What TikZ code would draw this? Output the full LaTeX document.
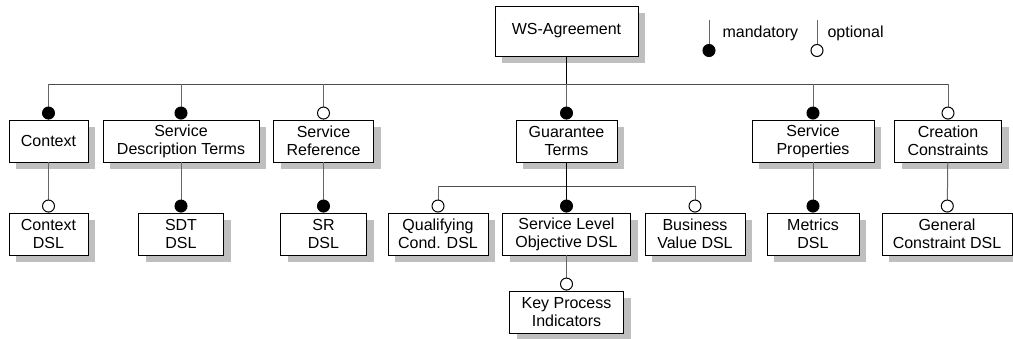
\documentclass[tikz,border=0pt]{standalone}
\usepackage{fontspec}
\setmainfont{Liberation Sans}
\usetikzlibrary{shadows,arrows.meta}
\begin{document}
\begin{tikzpicture}[x=1pt, y=-1pt, font=\fontsize{16}{18}\selectfont]
\tikzstyle{box}=[draw, line width=0.9pt, fill=white, align=center, minimum height=42pt, inner sep=0pt, drop shadow={shadow xshift=7pt, shadow yshift=-7pt, fill=black!25, opacity=1}]
\tikzstyle{mand}=[draw=black!60, line width=1pt, -{Circle[length=13pt, width=13pt, color=black]}]
\tikzstyle{opt}=[draw=black!60, line width=1pt, -{Circle[length=13pt, width=13pt, color=black, fill=white]}]
\tikzstyle{tx}=[draw=none, fill=none, anchor=west]
\useasboundingbox (0,0) rectangle (1013,338);

\node[box, minimum width=143pt, minimum height=50pt] (ws) at (566.5,31) {WS-Agreement};

\node[box, minimum width=79pt] (ctx) at (48.5,141) {Context};
\node[box, minimum width=156pt] (sdt) at (181,141) {Service\\Description Terms};
\node[box, minimum width=100pt] (sref) at (323.5,141) {Service\\Reference};
\node[box, minimum width=101pt] (gt) at (566.5,141) {Guarantee\\Terms};
\node[box, minimum width=122pt] (sprop) at (813,141) {Service\\Properties};
\node[box, minimum width=107pt] (cc) at (948,141) {Creation\\Constraints};

\node[box, minimum width=79pt] (ctxdsl) at (48.5,234) {Context\\DSL};
\node[box, minimum width=85pt] (sdtdsl) at (181,234) {SDT\\DSL};
\node[box, minimum width=86pt] (srdsl) at (323.5,234) {SR\\DSL};
\node[box, minimum width=100pt] (qcdsl) at (438,234) {Qualifying\\Cond. DSL};
\node[box, minimum width=128pt] (slodsl) at (566.5,234) {Service Level\\Objective DSL};
\node[box, minimum width=100pt] (bvdsl) at (695,234) {Business\\Value DSL};
\node[box, minimum width=92pt] (metdsl) at (813,234) {Metrics\\DSL};
\node[box, minimum width=130pt] (gcdsl) at (947,234) {General\\Constraint DSL};
\node[box, minimum width=114pt] (kpi) at (566.5,312) {Key Process\\Indicators};

\coordinate (mandtop) at (709,20);
\coordinate (mandbot) at (709,57);
\coordinate (opttop) at (817,20);
\coordinate (optbot) at (817,57);
\draw[mand] (mandtop) -- (mandbot);
\draw[opt] (opttop) -- (optbot);
\node[tx] (mandlbl) at (719,33) {mandatory};
\node[tx] (optlbl) at (824,33) {optional};

\coordinate (bus) at (566.5,84);
\draw[line width=1pt, black!70] (ctx.north |- bus) -- (cc.north |- bus);
\draw[line width=1.5pt] (ws.south) -- (bus);
\foreach \n in {ctx, sdt, gt, sprop}
  \draw[mand] (\n.north |- bus) -- (\n);
\foreach \n in {sref, cc}
  \draw[opt] (\n.north |- bus) -- (\n);

\draw[opt] (ctx) -- (ctxdsl);
\draw[mand] (sdt) -- (sdtdsl);
\draw[mand] (sref) -- (srdsl);
\draw[mand] (sprop) -- (metdsl);
\draw[opt] (cc) -- (gcdsl);

\coordinate (gtbus) at (566.5,186);
\draw[line width=1pt, black!70] (qcdsl.north |- gtbus) -- (bvdsl.north |- gtbus);
\draw[line width=1.3pt] (gt) -- (gtbus);
\draw[mand, draw=black, line width=1.3pt] (gtbus) -- (slodsl);
\draw[opt] (qcdsl.north |- gtbus) -- (qcdsl);
\draw[opt] (bvdsl.north |- gtbus) -- (bvdsl);
\draw[opt] (slodsl) -- (kpi);
\end{tikzpicture}
\end{document}
